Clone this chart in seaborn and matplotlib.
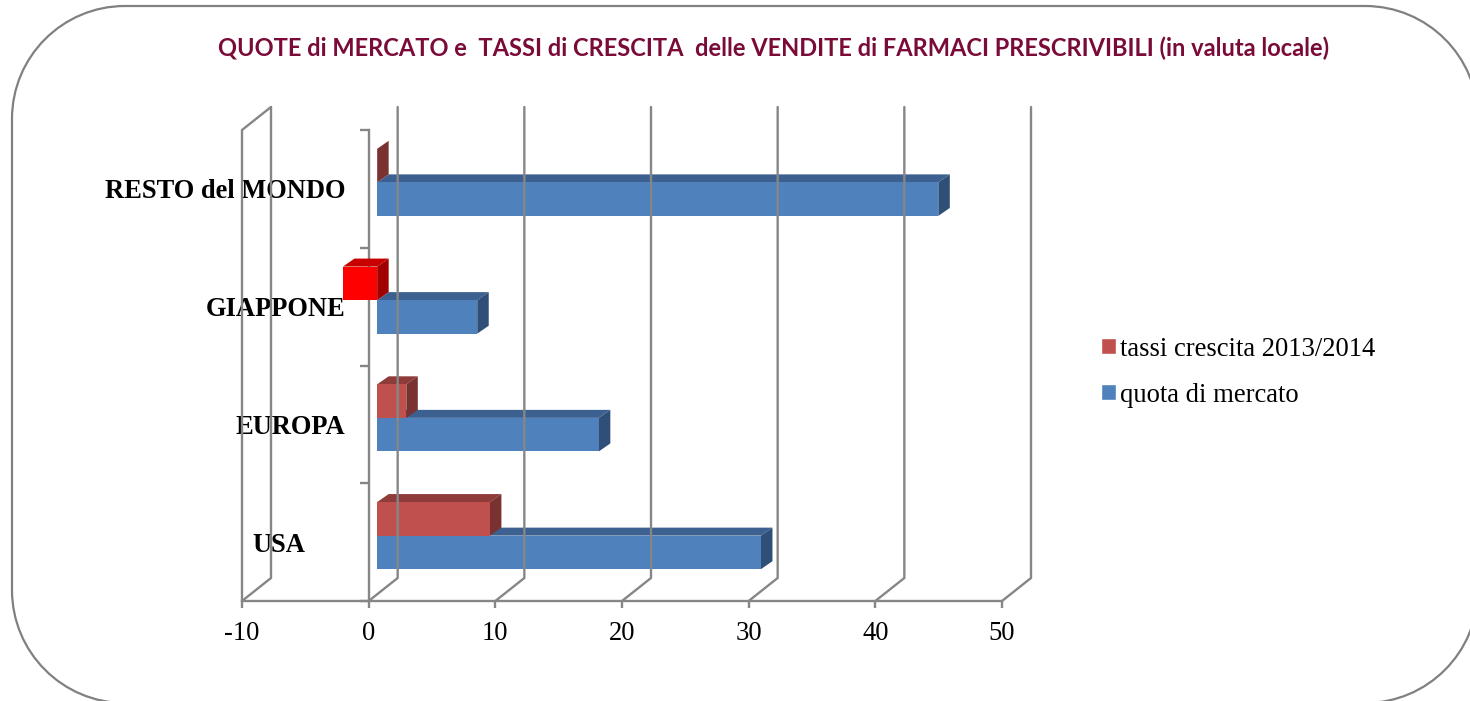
import matplotlib
matplotlib.use("Agg")
import matplotlib.pyplot as plt
import pandas as pd
import seaborn as sns
from matplotlib.patches import Polygon
from matplotlib.path import Path
from matplotlib.lines import Line2D
from matplotlib.transforms import Affine2D, IdentityTransform

categories = ["RESTO del MONDO", "GIAPPONE", "EUROPA", "USA"]
quota = [44.3, 7.9, 17.5, 30.3]
tassi = [0.0, -2.7, 2.3, 8.9]
series_names = ["tassi crescita 2013/2014", "quota di mercato"]
x_ticks = [-10, 0, 10, 20, 30, 40, 50]
title = "QUOTE di MERCATO e  TASSI di CRESCITA  delle VENDITE di FARMACI PRESCRIVIBILI (in valuta locale)"

W, H = 1470, 701
GRAY = "#868686"
RED = ("#C0504D", "#8F3B39", "#7A3230")
PURE = ("#FF0000", "#C80000", "#A00000")
BLUE = ("#4F81BD", "#3C6190", "#2F4F78")

sns.set_theme(style="white")
plt.rcParams["font.family"] = ["Liberation Serif", "DejaVu Serif"]
plt.rcParams["axes.unicode_minus"] = False

df = pd.DataFrame({
    "cat": categories * 2,
    "val": tassi + quota,
    "serie": [series_names[0]] * 4 + [series_names[1]] * 4,
})

fig = plt.figure(figsize=(W / 100, H / 100), dpi=100, facecolor="white")
ax = fig.add_axes([242 / W, 100 / H, 760 / W, 471 / H])
ax.patch.set_alpha(0)

sns.barplot(data=df, y="cat", x="val", hue="serie", order=categories,
            hue_order=series_names, palette=[RED[0], BLUE[0]], orient="h",
            width=0.57, gap=0, errorbar=None, ax=ax, saturation=1)

ax.set_xlim(x_ticks[0], x_ticks[-1])
ax.set_ylim(len(categories) - 0.5, -0.5)
ax.set_xlabel("")
ax.set_ylabel("")

# axis styling
LW = 1.7
for s in ("top", "right"):
    ax.spines[s].set_visible(False)
ax.spines["left"].set_position(("data", 0))
for s in ("left", "bottom"):
    ax.spines[s].set_color(GRAY)
    ax.spines[s].set_linewidth(LW)
ax.set_xticks(x_ticks)
ax.set_xticklabels([str(v) for v in x_ticks])
ax.set_yticks([i - 0.5 for i in range(len(categories) + 1)], minor=True)
ax.tick_params(axis="x", which="major", bottom=True, length=5, width=LW, color=GRAY,
               labelsize=19.2, labelcolor="black", pad=9.5)
ax.tick_params(axis="y", which="major", left=False, length=0, pad=17, labelsize=19.1,
               labelcolor="black")
ax.tick_params(axis="y", which="minor", left=True, length=6.5, width=LW, color=GRAY)
for lab in ax.get_yticklabels():
    lab.set_fontweight("bold")
    if lab.get_text() == "USA":
        lab.set_transform(lab.get_transform() + Affine2D().translate(-40, 0))

# 3-D walls and floor derived from the axis scale
DX, DY = 29, 23
ident = IdentityTransform()
fig.canvas.draw()
to_px = ax.transData.transform
ybot, ytop = len(categories) - 0.5, -0.5


def wall(pts):
    xs, ys = zip(*pts)
    fig.add_artist(Line2D(xs, ys, transform=ident, color=GRAY, lw=LW, zorder=1))


for v in x_ticks:
    bx, by = to_px((v, ybot))
    _, ty = to_px((v, ytop))
    wall([(bx, by), (bx + DX, by + DY), (bx + DX, ty + DY)])
lx, by = to_px((x_ticks[0], ybot))
_, ty = to_px((x_ticks[0], ytop))
wall([(lx, by), (lx, ty), (lx + DX, ty + DY)])

# 3-D depth of the bars
OX, OY = 8.5, 6.5   # front face offset from the axis plane
BX, BY = 11.5, 8    # bar depth

ax.set_axisbelow(False)
ax.xaxis.set_zorder(2.5)
ax.yaxis.set_zorder(2.5)
for z, cont in zip((5, 3), ax.containers):
    for bar in cont.patches:
        val = bar.get_width()
        face = PURE if (z == 5 and val < 0) else (RED if z == 5 else BLUE)
        bb = bar.get_bbox()
        x0, y0 = to_px((bb.xmin, bb.ymax))
        x1, y1 = to_px((bb.xmax, bb.ymin))
        x0 += OX; x1 += OX; y0 += OY; y1 += OY
        bar.set_transform(ax.transData + Affine2D().translate(OX, OY))
        bar.set_facecolor(face[0])
        bar.set_edgecolor("none")
        bar.set_clip_on(False)
        bar.set_zorder(z + 0.2)
        for pts, c in (
            ([(x0, y1), (x1, y1), (x1 + BX, y1 + BY), (x0 + BX, y1 + BY)], face[1]),
            ([(x1, y0), (x1 + BX, y0 + BY), (x1 + BX, y1 + BY), (x1, y1)], face[2]),
        ):
            ax.add_patch(Polygon(pts, closed=True, transform=ident, facecolor=c,
                                 edgecolor="none", clip_on=False, zorder=z))

# legend
handles, labels = ax.get_legend_handles_labels()
leg = ax.legend(handles, labels, loc="upper left", frameon=False,
                bbox_to_anchor=(1101, H - 336.5), bbox_transform=ident,
                fontsize=19.2, borderpad=0, borderaxespad=0, handlelength=0.55,
                handleheight=0.55, handletextpad=0.18, labelspacing=0.79,
                labelcolor="black")

# title
fig.text(773.5 / W, 1 - 48 / H, title, ha="center", va="center", fontsize=17,
         fontweight="bold", color="#7A0A38", family=["Lato", "DejaVu Sans"])

# rounded frame (flattened, since the frame runs past the canvas edge)
L, T, R, B, r = 12, 6, 1478, 703, 113
k = 0.5523 * r
verts = [(L + r, T), (R - r, T),
         (R - r + k, T), (R, T + r - k), (R, T + r), (R, B - r),
         (R, B - r + k), (R - r + k, B), (R - r, B), (L + r, B),
         (L + r - k, B), (L, B - r + k), (L, B - r), (L, T + r),
         (L, T + r - k), (L + r - k, T), (L + r, T)]
codes = [Path.MOVETO, Path.LINETO] + [Path.CURVE4] * 3 + [Path.LINETO] \
    + [Path.CURVE4] * 3 + [Path.LINETO] + [Path.CURVE4] * 3 + [Path.LINETO] \
    + [Path.CURVE4] * 3
outline = Path([(x, H - y) for x, y in verts], codes).to_polygons(closed_only=False)[0]
fig.add_artist(Line2D(outline[:, 0], outline[:, 1], transform=ident, color="#808080",
                      lw=1.6, zorder=0))

fig.savefig("out.png", dpi=100)
